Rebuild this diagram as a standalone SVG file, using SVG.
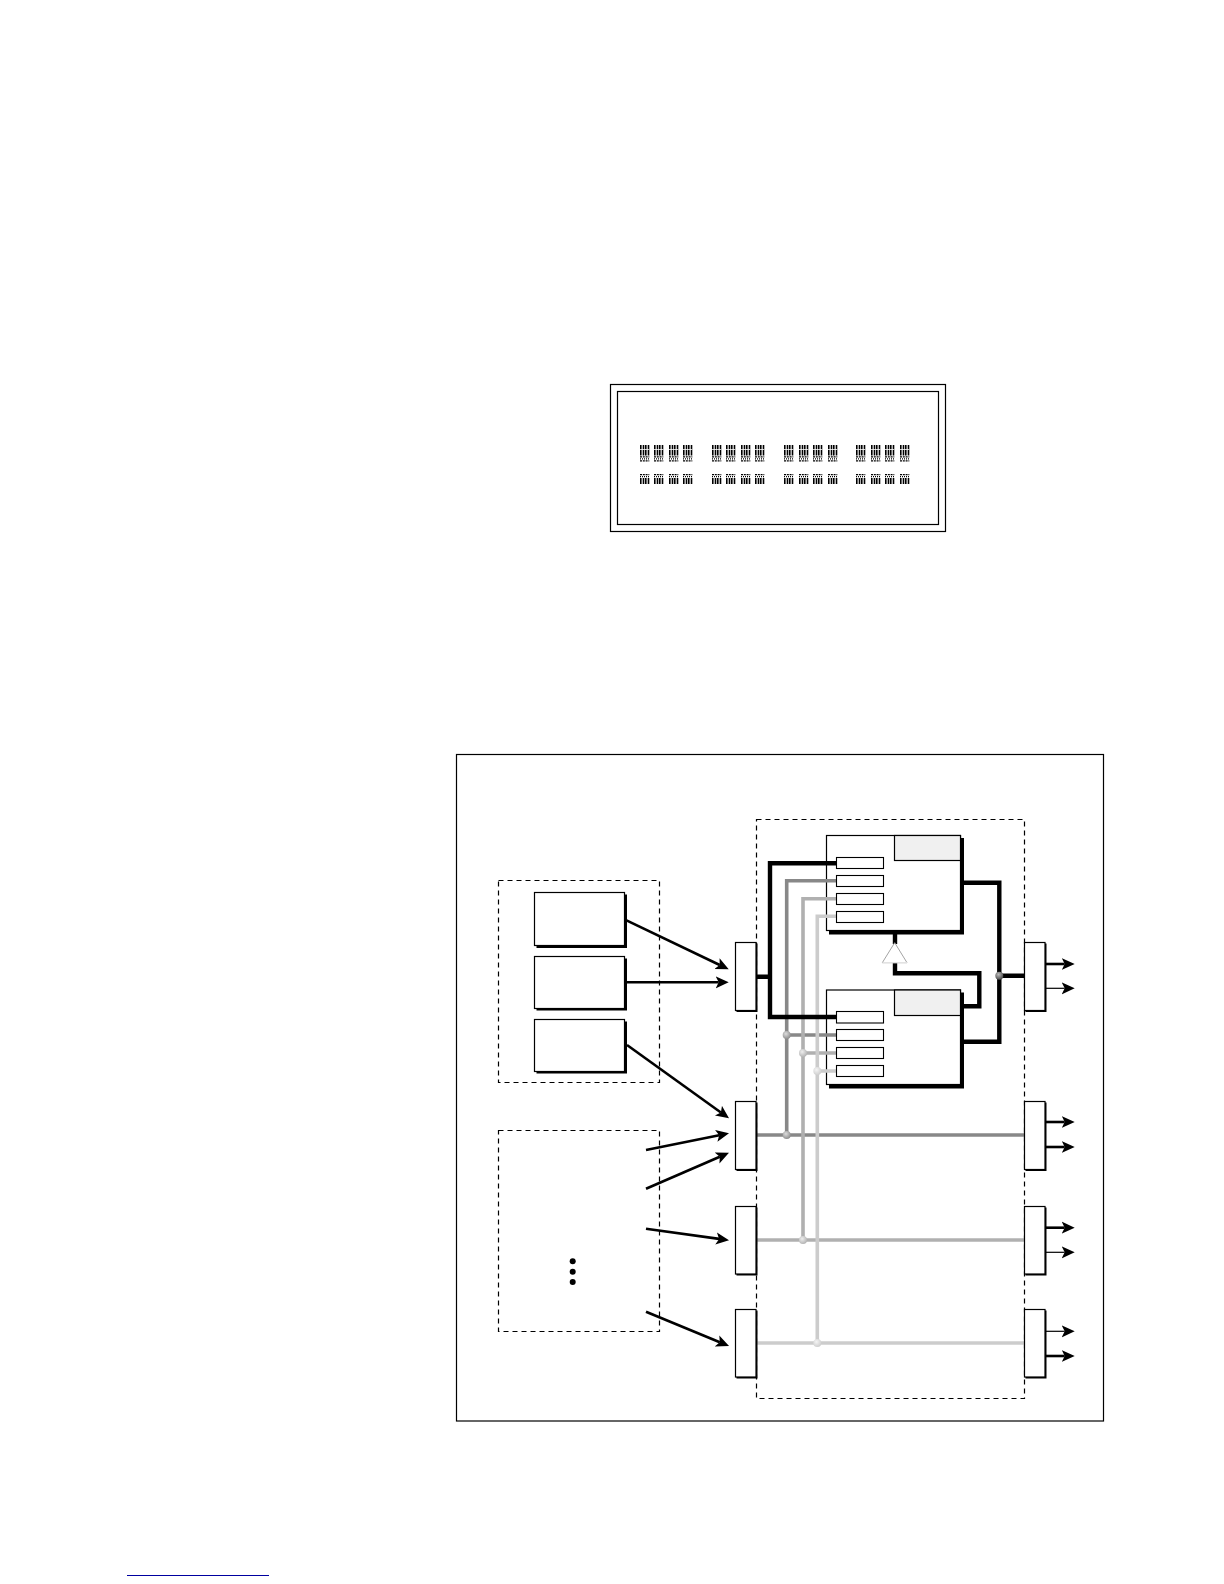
<svg xmlns="http://www.w3.org/2000/svg" xmlns:xlink="http://www.w3.org/1999/xlink" width="1224" height="1584" viewBox="0 0 1224 1584">
<style>
.frame{fill:#fff;stroke:#000;stroke-width:1.2}
.dash{fill:none;stroke:#000;stroke-width:1.2;stroke-dasharray:5 4}
.box{fill:#fff;stroke:#000;stroke-width:1.2}
.shadow{fill:#000}
.gray{fill:#f0f0f0;stroke:#000;stroke-width:1.2}
.port{fill:#fff;stroke:#000;stroke-width:1.1}
.w{fill:none;stroke-linejoin:miter}
.k{stroke:#000;stroke-width:4.4}
.g1{stroke:#888;stroke-width:3.6}
.g2{stroke:#b0b0b0;stroke-width:3.6}
.g3{stroke:#ccc;stroke-width:3.6}
.a{fill:none;stroke:#000;stroke-width:2.6;marker-end:url(#ah)}
.t{fill:none;stroke:#000;stroke-width:1.2;marker-end:url(#ah)}
.bars{fill:none;stroke:#000;stroke-width:1.6}
.dots{stroke-width:1.2}
</style>
<defs>
<marker id="ah" markerUnits="userSpaceOnUse" markerWidth="16" markerHeight="14" refX="3" refY="6.5" orient="auto">
<polygon points="0,0.5 13,6.5 0,12.5 3,6.5" fill="#000"/>
</marker>
<radialGradient id="ball" cx="0.4" cy="0.35" r="0.7"><stop offset="0" stop-color="#bbb"/><stop offset="1" stop-color="#444"/></radialGradient>
<radialGradient id="ball1" cx="0.4" cy="0.35" r="0.7"><stop offset="0" stop-color="#ddd"/><stop offset="1" stop-color="#888"/></radialGradient>
<radialGradient id="ball2" cx="0.4" cy="0.35" r="0.7"><stop offset="0" stop-color="#eee"/><stop offset="1" stop-color="#b0b0b0"/></radialGradient>
<radialGradient id="ball3" cx="0.4" cy="0.35" r="0.7"><stop offset="0" stop-color="#f4f4f4"/><stop offset="1" stop-color="#ccc"/></radialGradient>
<g id="b1" class="bars">
<line x1="0.8" y1="0" x2="0.8" y2="10.500"/><line x1="3.500" y1="0" x2="3.500" y2="10.500"/><line x1="5.800" y1="0" x2="5.800" y2="10.500"/><line x1="8.500" y1="0" x2="8.500" y2="10.500"/>
<line class="dots" x1="0" y1="11.800" x2="9.300" y2="11.800" stroke-dasharray="2 0.800"/><line class="dots" x1="0" y1="13.800" x2="9.300" y2="13.800" stroke-dasharray="1 1"/><line class="dots" x1="0" y1="15.800" x2="9.300" y2="15.800" stroke-dasharray="2 0.800"/>
<line x1="0" y1="4.500" x2="9.300" y2="4.500" stroke="#fff" stroke-width="0.800"/>
</g>
<g id="b2" class="bars">
<line class="dots" x1="0" y1="0.600" x2="9.300" y2="0.600" stroke-dasharray="2 0.800"/><line class="dots" x1="0" y1="2.700" x2="9.300" y2="2.700" stroke-dasharray="1 1"/>
<line x1="0.8" y1="4" x2="0.8" y2="10"/><line x1="3.500" y1="4" x2="3.500" y2="10"/><line x1="5.800" y1="4" x2="5.800" y2="10"/><line x1="8.500" y1="4" x2="8.500" y2="10"/>
</g>
</defs>
<rect width="1224" height="1584" fill="#fff"/>

<g id="top-panel">
<rect class="box" x="610.5" y="384.5" width="335" height="147"/>
<rect class="box" x="617.5" y="391.5" width="321" height="133"/>
<use href="#b1" x="640" y="445"/><use href="#b1" x="654" y="445"/><use href="#b1" x="669" y="445"/><use href="#b1" x="683" y="445"/>
<use href="#b1" x="712" y="445"/><use href="#b1" x="726" y="445"/><use href="#b1" x="741" y="445"/><use href="#b1" x="755" y="445"/>
<use href="#b1" x="784" y="445"/><use href="#b1" x="799" y="445"/><use href="#b1" x="813" y="445"/><use href="#b1" x="828" y="445"/>
<use href="#b1" x="856" y="445"/><use href="#b1" x="871" y="445"/><use href="#b1" x="885" y="445"/><use href="#b1" x="900" y="445"/>
<use href="#b2" x="640" y="474"/><use href="#b2" x="654" y="474"/><use href="#b2" x="669" y="474"/><use href="#b2" x="683" y="474"/>
<use href="#b2" x="712" y="474"/><use href="#b2" x="726" y="474"/><use href="#b2" x="741" y="474"/><use href="#b2" x="755" y="474"/>
<use href="#b2" x="784" y="474"/><use href="#b2" x="799" y="474"/><use href="#b2" x="813" y="474"/><use href="#b2" x="828" y="474"/>
<use href="#b2" x="856" y="474"/><use href="#b2" x="871" y="474"/><use href="#b2" x="885" y="474"/><use href="#b2" x="900" y="474"/>
</g>

<g id="outer-frame"><rect class="frame" x="456.5" y="754.5" width="647" height="666.5"/></g>
<g id="group-sources-a"><rect class="dash" x="498.5" y="880.5" width="161" height="202"/></g>
<g id="group-sources-b"><rect class="dash" x="498.5" y="1130.5" width="161" height="201"/>
<circle cx="572.7" cy="1261.3" r="3"/><circle cx="572.7" cy="1271.7" r="3"/><circle cx="572.7" cy="1282" r="3"/></g>
<g id="group-core"><rect class="dash" x="756.5" y="819.5" width="268" height="579"/></g>

<g id="source-1"><rect class="shadow" x="536.5" y="894.5" width="90.5" height="53.5"/><rect class="box" x="534.5" y="892.5" width="90" height="53"/></g>
<g id="source-2"><rect class="shadow" x="536.5" y="958.5" width="90.5" height="52"/><rect class="box" x="534.5" y="956.5" width="90" height="52"/></g>
<g id="source-3"><rect class="shadow" x="536.5" y="1021.5" width="90.5" height="52"/><rect class="box" x="534.5" y="1019.5" width="90" height="52"/></g>

<g id="switch-a"><rect class="shadow" x="829" y="838" width="135" height="96.500"/><rect class="box" x="826.500" y="835.500" width="134" height="95"/><rect class="gray" x="894.500" y="835.500" width="66" height="25"/></g>
<g id="switch-b"><rect class="shadow" x="829" y="992.500" width="135" height="96"/><rect class="box" x="826.500" y="990" width="134" height="94.500"/><rect class="gray" x="894.500" y="990" width="66" height="25.500"/></g>

<g id="connectors">
<g class="w">
<path class="g1" d="M757 1135H1024"/>
<path class="g2" d="M757 1240H1024"/>
<path class="g3" d="M757 1343H1024"/>
<path class="g1" d="M836 880.700H786.700V1135M786.700 1035H836"/>
<path class="g2" d="M836 898.700H803V1240M803 1053H836"/>
<path class="g3" d="M836 916.300H817.300V1343M817.300 1071H836"/>
<path class="k" d="M757 976.700H770M836 863.300H770V1017H836"/>
<path class="k" d="M962 882.700H999.300V1041.700H962M999.300 975.700H1024"/>
<path class="k" d="M895 932V944M895 962V973.300H979.300V1006.300H962"/>
</g>
<circle cx="999.300" cy="975.700" r="4" fill="url(#ball)"/>
<circle cx="786.700" cy="1035" r="4" fill="url(#ball1)"/><circle cx="786.700" cy="1135" r="4" fill="url(#ball1)"/>
<circle cx="803" cy="1053" r="4" fill="url(#ball2)"/><circle cx="803" cy="1240" r="4" fill="url(#ball2)"/>
<circle cx="817.300" cy="1071" r="4" fill="url(#ball3)"/><circle cx="817.300" cy="1343" r="4" fill="url(#ball3)"/>
<line class="a" x1="626.500" y1="920.300" x2="719.700" y2="965"/>
<line class="a" x1="627" y1="982.300" x2="718.700" y2="982.300"/>
<line class="a" x1="627" y1="1045" x2="720.900" y2="1112.500"/>
<line class="a" x1="646" y1="1150" x2="719.200" y2="1135.300"/>
<line class="a" x1="646" y1="1188.700" x2="719.800" y2="1156.700"/>
<line class="a" x1="646" y1="1228.700" x2="719.100" y2="1238.900"/>
<line class="a" x1="646" y1="1311.700" x2="719.800" y2="1342.200"/>
<line class="a" x1="1046" y1="964" x2="1064.700" y2="964"/>
<line class="t" x1="1046" y1="988.300" x2="1064.700" y2="988.300"/>
<line class="a" x1="1046" y1="1122" x2="1064.700" y2="1122"/>
<line class="a" x1="1046" y1="1147" x2="1064.700" y2="1147"/>
<line class="a" x1="1046" y1="1227.700" x2="1064.700" y2="1227.700"/>
<line class="t" x1="1046" y1="1252.300" x2="1064.700" y2="1252.300"/>
<line class="t" x1="1046" y1="1331.300" x2="1064.700" y2="1331.300"/>
<line class="a" x1="1046" y1="1356" x2="1064.700" y2="1356"/>
</g>

<g id="triangle"><polygon points="894.700,942.700 882.300,962.700 907,962.700" fill="#fff" stroke="#999" stroke-width="0.9"/><line x1="882.500" y1="962.700" x2="907" y2="962.700" stroke="#e8e8e8" stroke-width="1.200"/></g>

<g id="ports-a">
<rect class="port" x="836.500" y="857.500" width="47" height="11"/><rect class="port" x="836.500" y="875.500" width="47" height="11"/><rect class="port" x="836.500" y="893.500" width="47" height="11"/><rect class="port" x="836.500" y="911.500" width="47" height="11"/>
</g>
<g id="ports-b">
<rect class="port" x="836.500" y="1011.500" width="47" height="11.500"/><rect class="port" x="836.500" y="1029.500" width="47" height="11"/><rect class="port" x="836.500" y="1047.500" width="47" height="11"/><rect class="port" x="836.500" y="1065.500" width="47" height="11"/>
</g>

<g id="in-1"><rect class="shadow" x="736.500" y="943.500" width="21" height="68.500"/><rect class="box" x="735.500" y="942.500" width="20.500" height="68"/></g>
<g id="in-2"><rect class="shadow" x="736.500" y="1102.500" width="21" height="68.500"/><rect class="box" x="735.500" y="1101.500" width="20.500" height="68"/></g>
<g id="in-3"><rect class="shadow" x="736.500" y="1207.500" width="21" height="68"/><rect class="box" x="735.500" y="1206.500" width="20.500" height="67.500"/></g>
<g id="in-4"><rect class="shadow" x="736.500" y="1310.500" width="21" height="68"/><rect class="box" x="735.500" y="1309.500" width="20.500" height="67.500"/></g>
<g id="out-1"><rect class="shadow" x="1025.500" y="943.500" width="21" height="68.500"/><rect class="box" x="1024.500" y="942.500" width="20.500" height="68"/></g>
<g id="out-2"><rect class="shadow" x="1025.500" y="1102.500" width="21" height="68.500"/><rect class="box" x="1024.500" y="1101.500" width="20.500" height="68"/></g>
<g id="out-3"><rect class="shadow" x="1025.500" y="1207.500" width="21" height="68"/><rect class="box" x="1024.500" y="1206.500" width="20.500" height="67.500"/></g>
<g id="out-4"><rect class="shadow" x="1025.500" y="1310.500" width="21" height="68"/><rect class="box" x="1024.500" y="1309.500" width="20.500" height="67.500"/></g>

<line id="footnote-rule" x1="127" y1="1575.500" x2="269" y2="1575.500" stroke="#0000a0" stroke-width="1"/>
</svg>
